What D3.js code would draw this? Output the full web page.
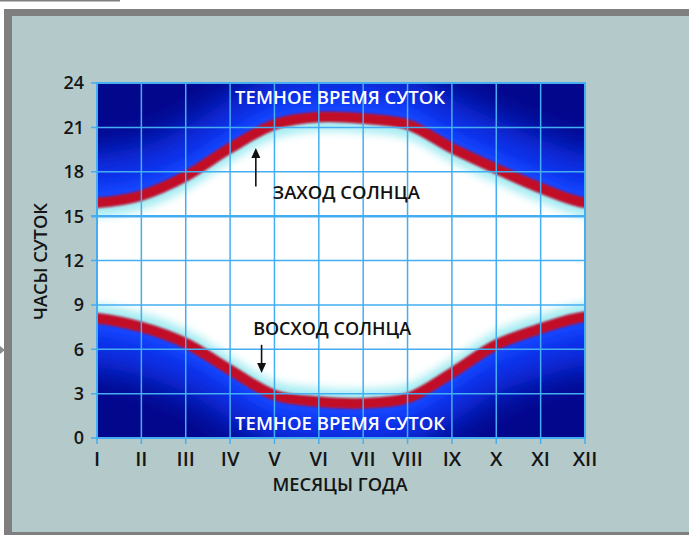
<!DOCTYPE html>
<html>
<head>
<meta charset="utf-8">
<script src="https://cdn.jsdelivr.net/npm/d3@7"></script>
<style>
  body { margin: 0; background: #fff; }
  svg { display: block; font-family: "Open Sans", "DejaVu Sans", sans-serif; }
</style>
</head>
<body>
<svg id="chart" width="689" height="535"></svg>
<script>
// month labels along the x axis
var months = ["I", "II", "III", "IV", "V", "VI", "VII", "VIII", "IX", "X", "XI", "XII"];
// hour ticks on the y axis
var hourTicks = [0, 3, 6, 9, 12, 15, 18, 21, 24];
// sunset / sunrise hour, one per month
var sunset  = [15.9, 16.4, 17.7, 19.6, 21.2, 21.7, 21.6, 21.2, 19.6, 18.2, 16.9, 15.9];
var sunrise = [8.1, 7.5, 6.4, 4.6, 2.9, 2.45, 2.35, 2.7, 4.4, 6.3, 7.4, 8.2];

var svg = d3.select("#chart"),
    margin = { top: 83, right: 104, bottom: 97, left: 97 },
    width = +svg.attr("width") - margin.left - margin.right,
    height = +svg.attr("height") - margin.top - margin.bottom;

// frame and panel
svg.append("rect").attr("x", 0).attr("y", 0).attr("width", 120).attr("height", 1.5).attr("fill", "#808080");
svg.append("rect").attr("x", 4).attr("y", 9).attr("width", 685).attr("height", 526).attr("fill", "#7f7f7f");
svg.append("rect").attr("x", 12).attr("y", 16).attr("width", 677).attr("height", 516).attr("fill", "#b3c9ca");
svg.append("path").attr("d", "M0,346L5,350L0,354Z").attr("fill", "#8a8a8a");

var x = d3.scaleLinear().domain([0, months.length - 1]).range([0, width]);
var y = d3.scaleLinear().domain([0, 24]).range([height, 0]);

var defs = svg.append("defs");
defs.append("clipPath").attr("id", "plotClip")
    .append("rect").attr("width", width).attr("height", height);

function blur(id, sd) {
  defs.append("filter").attr("id", id)
      .attr("x", "-20%").attr("y", "-40%").attr("width", "140%").attr("height", "180%")
      .append("feGaussianBlur").attr("stdDeviation", sd);
}
blur("blurWide", 17);
blur("blurMid", 6);
blur("blurSoft", 4);
blur("blurCyan", 2.5);
blur("blurRed", 1);

// the year wraps round: December before January, January after December
var days = sunset.map(function(d, i) { return { m: i, rise: sunrise[i], set: d }; });
var n = days.length;
days.unshift({ m: -1, rise: sunrise[n - 1], set: sunset[n - 1] });
days.push({ m: n, rise: sunrise[0], set: sunset[0] });

var curve = d3.curveCatmullRom.alpha(0.5);

var g = svg.append("g").attr("transform", "translate(" + margin.left + "," + margin.top + ")");
var field = g.append("g").attr("clip-path", "url(#plotClip)");

function band(off, fill, filter) {
  field.append("path")
      .datum(days)
      .attr("fill", fill)
      .attr("filter", "url(#" + filter + ")")
      .attr("d", d3.area()
          .curve(curve)
          .x(function(d) { return x(d.m); })
          .y0(function(d) { return y(d.rise - off); })
          .y1(function(d) { return y(d.set + off); }));
}

field.append("rect").attr("width", width).attr("height", height).attr("fill", "#03078c");
band(3.3, "#0a36f0", "blurWide");
band(1.0, "#1446ff", "blurMid");
band(-0.1, "#a4ecf2", "blurCyan");
band(-0.95, "#ffffff", "blurSoft");

["set", "rise"].forEach(function(k) {
  field.append("path")
      .datum(days)
      .attr("fill", "none")
      .attr("stroke", "#c20a28")
      .attr("stroke-width", 10.5)
      .attr("filter", "url(#blurRed)")
      .attr("d", d3.line()
          .curve(curve)
          .x(function(d) { return x(d.m); })
          .y(function(d) { return y(d[k]); }));
});

// grid
var gridColor = "#45aef2";
g.selectAll(".vgrid").data(months).enter().append("line")
    .attr("x1", function(d, i) { return x(i); }).attr("x2", function(d, i) { return x(i); })
    .attr("y1", 0).attr("y2", height + 6)
    .attr("stroke", gridColor).attr("stroke-width", 1.5);
g.selectAll(".hgrid").data(hourTicks).enter().append("line")
    .attr("x1", -6).attr("x2", width)
    .attr("y1", function(d) { return y(d); }).attr("y2", function(d) { return y(d); })
    .attr("stroke", gridColor).attr("stroke-width", function(d) { return d === 15 ? 2.5 : 1.5; });
g.append("rect").attr("width", width).attr("height", height)
    .attr("fill", "none").attr("stroke", gridColor).attr("stroke-width", 2);

// axis labels
g.selectAll(".ylab").data(hourTicks).enter().append("text")
    .attr("x", -13).attr("y", function(d) { return y(d); })
    .attr("dy", "0.36em")
    .attr("text-anchor", "end")
    .attr("font-size", 18).attr("font-weight", 600).attr("fill", "#151515")
    .text(function(d) { return d; });
g.selectAll(".xlab").data(months).enter().append("text")
    .attr("x", function(d, i) { return x(i); }).attr("y", height + 28)
    .attr("text-anchor", "middle")
    .attr("font-size", 20).attr("font-weight", 600).attr("fill", "#151515")
    .text(function(d) { return d; });

svg.append("text")
    .attr("x", 340).attr("y", 491)
    .attr("text-anchor", "middle").attr("font-size", 18).attr("font-weight", 600).attr("fill", "#151515")
    .attr("textLength", 135).attr("lengthAdjust", "spacingAndGlyphs")
    .text("МЕСЯЦЫ ГОДА");
svg.append("text")
    .attr("transform", "translate(47,261.5) rotate(-90)")
    .attr("text-anchor", "middle").attr("font-size", 18).attr("font-weight", 600).attr("fill", "#151515")
    .attr("textLength", 117).attr("lengthAdjust", "spacingAndGlyphs")
    .text("ЧАСЫ СУТОК");

// annotations inside the plot
var notes = [
  { text: "ТЕМНОЕ ВРЕМЯ СУТОК", m: 5.48, h: 22.6, w: 210, color: "#ffffff" },
  { text: "ТЕМНОЕ ВРЕМЯ СУТОК", m: 5.48, h: 0.55, w: 210, color: "#ffffff" },
  { text: "ЗАХОД СОЛНЦА", m: 5.62, h: 16.15, w: 147, color: "#111111" },
  { text: "ВОСХОД СОЛНЦА", m: 5.3, h: 6.95, w: 158, color: "#111111" }
];
g.selectAll(".note").data(notes).enter().append("text")
    .attr("x", function(d) { return x(d.m); })
    .attr("y", function(d) { return y(d.h); })
    .attr("text-anchor", "middle")
    .attr("font-size", 18).attr("font-weight", 600)
    .attr("fill", function(d) { return d.color; })
    .attr("textLength", function(d) { return d.w; })
    .attr("lengthAdjust", "spacingAndGlyphs")
    .text(function(d) { return d.text; });

var arrows = [
  { m: 3.58, from: 17.0, to: 19.6 },
  { m: 3.71, from: 6.3, to: 4.4 }
];
arrows.forEach(function(a) {
  var ax = x(a.m), y0 = y(a.from), y1 = y(a.to), dir = y1 < y0 ? 1 : -1;
  g.append("line")
      .attr("x1", ax).attr("x2", ax)
      .attr("y1", y0).attr("y2", y1 + dir * 8)
      .attr("stroke", "#111").attr("stroke-width", 1.6);
  g.append("path")
      .attr("d", "M" + ax + "," + y1 + "L" + (ax - 4.5) + "," + (y1 + dir * 10) + "L" + (ax + 4.5) + "," + (y1 + dir * 10) + "Z")
      .attr("fill", "#111");
});
</script>
</body>
</html>
